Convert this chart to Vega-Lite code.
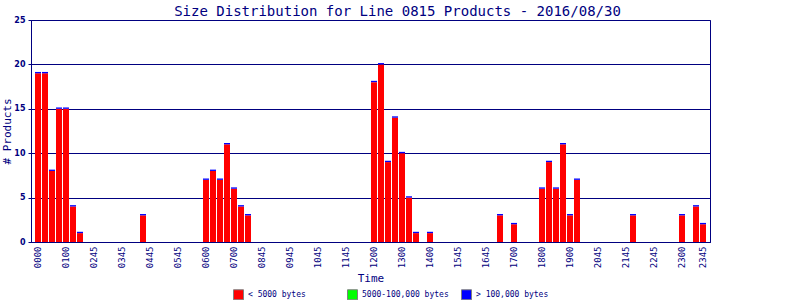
{
  "$schema": "https://vega.github.io/schema/vega-lite/v6.json",
  "autosize": "none",
  "width": 679,
  "height": 222,
  "padding": {"left": 31, "top": 20, "right": 90, "bottom": 58},
  "background": "white",
  "title": {
    "text": "Size Distribution for Line 0815 Products - 2016/08/30",
    "font": "DejaVu Sans Mono",
    "fontSize": 14,
    "fontWeight": "normal",
    "color": "#000080",
    "anchor": "middle",
    "dx": 27,
    "offset": -3
  },
  "data": {
    "values": [
      {"time": "0000", "size": "< 5000 bytes", "n": 19}, {"time": "0000", "size": "> 100,000 bytes", "n": 0.15},
      {"time": "0015", "size": "< 5000 bytes", "n": 19}, {"time": "0015", "size": "> 100,000 bytes", "n": 0.15},
      {"time": "0030", "size": "< 5000 bytes", "n": 8}, {"time": "0030", "size": "> 100,000 bytes", "n": 0.15},
      {"time": "0045", "size": "< 5000 bytes", "n": 15}, {"time": "0045", "size": "> 100,000 bytes", "n": 0.15},
      {"time": "0100", "size": "< 5000 bytes", "n": 15}, {"time": "0100", "size": "> 100,000 bytes", "n": 0.15},
      {"time": "0115", "size": "< 5000 bytes", "n": 4}, {"time": "0115", "size": "> 100,000 bytes", "n": 0.15},
      {"time": "0130", "size": "< 5000 bytes", "n": 1}, {"time": "0130", "size": "> 100,000 bytes", "n": 0.15},
      {"time": "0345", "size": "< 5000 bytes", "n": 3}, {"time": "0345", "size": "> 100,000 bytes", "n": 0.15},
      {"time": "0600", "size": "< 5000 bytes", "n": 7}, {"time": "0600", "size": "> 100,000 bytes", "n": 0.15},
      {"time": "0615", "size": "< 5000 bytes", "n": 8}, {"time": "0615", "size": "> 100,000 bytes", "n": 0.15},
      {"time": "0630", "size": "< 5000 bytes", "n": 7}, {"time": "0630", "size": "> 100,000 bytes", "n": 0.15},
      {"time": "0645", "size": "< 5000 bytes", "n": 11}, {"time": "0645", "size": "> 100,000 bytes", "n": 0.15},
      {"time": "0700", "size": "< 5000 bytes", "n": 6}, {"time": "0700", "size": "> 100,000 bytes", "n": 0.15},
      {"time": "0715", "size": "< 5000 bytes", "n": 4}, {"time": "0715", "size": "> 100,000 bytes", "n": 0.15},
      {"time": "0730", "size": "< 5000 bytes", "n": 3}, {"time": "0730", "size": "> 100,000 bytes", "n": 0.15},
      {"time": "1200", "size": "< 5000 bytes", "n": 18}, {"time": "1200", "size": "> 100,000 bytes", "n": 0.15},
      {"time": "1215", "size": "< 5000 bytes", "n": 20}, {"time": "1215", "size": "> 100,000 bytes", "n": 0.15},
      {"time": "1230", "size": "< 5000 bytes", "n": 9}, {"time": "1230", "size": "> 100,000 bytes", "n": 0.15},
      {"time": "1245", "size": "< 5000 bytes", "n": 14}, {"time": "1245", "size": "> 100,000 bytes", "n": 0.15},
      {"time": "1300", "size": "< 5000 bytes", "n": 10}, {"time": "1300", "size": "> 100,000 bytes", "n": 0.15},
      {"time": "1315", "size": "< 5000 bytes", "n": 5}, {"time": "1315", "size": "> 100,000 bytes", "n": 0.15},
      {"time": "1330", "size": "< 5000 bytes", "n": 1}, {"time": "1330", "size": "> 100,000 bytes", "n": 0.15},
      {"time": "1400", "size": "< 5000 bytes", "n": 1}, {"time": "1400", "size": "> 100,000 bytes", "n": 0.15},
      {"time": "1630", "size": "< 5000 bytes", "n": 3}, {"time": "1630", "size": "> 100,000 bytes", "n": 0.15},
      {"time": "1700", "size": "< 5000 bytes", "n": 2}, {"time": "1700", "size": "> 100,000 bytes", "n": 0.15},
      {"time": "1800", "size": "< 5000 bytes", "n": 6}, {"time": "1800", "size": "> 100,000 bytes", "n": 0.15},
      {"time": "1815", "size": "< 5000 bytes", "n": 9}, {"time": "1815", "size": "> 100,000 bytes", "n": 0.15},
      {"time": "1830", "size": "< 5000 bytes", "n": 6}, {"time": "1830", "size": "> 100,000 bytes", "n": 0.15},
      {"time": "1845", "size": "< 5000 bytes", "n": 11}, {"time": "1845", "size": "> 100,000 bytes", "n": 0.15},
      {"time": "1900", "size": "< 5000 bytes", "n": 3}, {"time": "1900", "size": "> 100,000 bytes", "n": 0.15},
      {"time": "1915", "size": "< 5000 bytes", "n": 7}, {"time": "1915", "size": "> 100,000 bytes", "n": 0.15},
      {"time": "2115", "size": "< 5000 bytes", "n": 3}, {"time": "2115", "size": "> 100,000 bytes", "n": 0.15},
      {"time": "2300", "size": "< 5000 bytes", "n": 3}, {"time": "2300", "size": "> 100,000 bytes", "n": 0.15},
      {"time": "2330", "size": "< 5000 bytes", "n": 4}, {"time": "2330", "size": "> 100,000 bytes", "n": 0.15},
      {"time": "2345", "size": "< 5000 bytes", "n": 2}, {"time": "2345", "size": "> 100,000 bytes", "n": 0.15}
    ]
  },
  "mark": {"type": "bar"},
  "encoding": {
    "x": {
      "field": "time",
      "type": "ordinal",
      "title": "Time",
      "scale": {
        "domain": ["0000","0015","0030","0045","0100","0115","0130","0145","0200","0215","0230","0245","0300","0315","0330","0345","0400","0415","0430","0445","0500","0515","0530","0545","0600","0615","0630","0645","0700","0715","0730","0745","0800","0815","0830","0845","0900","0915","0930","0945","1000","1015","1030","1045","1100","1115","1130","1145","1200","1215","1230","1245","1300","1315","1330","1345","1400","1415","1430","1445","1500","1515","1530","1545","1600","1615","1630","1645","1700","1715","1730","1745","1800","1815","1830","1845","1900","1915","1930","1945","2000","2015","2030","2045","2100","2115","2130","2145","2200","2215","2230","2245","2300","2315","2330","2345"],
        "paddingInner": 0.1429,
        "paddingOuter": 0.571
      },
      "axis": {
        "values": ["0000","0100","0200","0300","0400","0500","0600","0700","0800","0900","1000","1100","1200","1300","1400","1500","1600","1700","1800","1900","2000","2100","2200","2300","2345"],
        "labelExpr": "indexof(['0200','0300','0400','0500','0800','0900','1000','1100','1500','1600','2000','2100','2200'], datum.value) >= 0 ? slice(datum.value, 0, 2) + '45' : datum.value",
        "labelAngle": -90,
        "labelFont": "DejaVu Sans Mono",
        "labelFontSize": 9,
        "labelColor": "#000080",
        "labelPadding": 4,
        "ticks": false,
        "domainColor": "#000080",
        "titleFont": "DejaVu Sans Mono",
        "titleFontSize": 11,
        "titleFontWeight": "normal",
        "titleColor": "#000080",
        "titlePadding": 5,
        "grid": false
      }
    },
    "y": {
      "field": "n",
      "type": "quantitative",
      "stack": "zero",
      "title": "# Products",
      "scale": {"domain": [0, 25], "nice": false},
      "axis": {
        "values": [0, 5, 10, 15, 20, 25],
        "grid": true,
        "gridColor": "#000080",
        "gridOpacity": 1,
        "gridWidth": 1,
        "domainColor": "#000080",
        "tickColor": "#000080",
        "tickSize": 3,
        "labelFont": "DejaVu Sans",
        "labelFontWeight": "bold",
        "labelFontSize": 8,
        "labelColor": "#000080",
        "labelPadding": 3,
        "titleFont": "DejaVu Sans Mono",
        "titleFontSize": 11,
        "titleFontWeight": "normal",
        "titleColor": "#000080",
        "titlePadding": 1
      }
    },
    "color": {
      "field": "size",
      "type": "nominal",
      "scale": {
        "domain": ["< 5000 bytes", "5000-100,000 bytes", "> 100,000 bytes"],
        "range": ["#ff0000", "#00ff00", "#0000ff"]
      },
      "legend": {
        "title": null,
        "orient": "none",
        "legendX": 202,
        "legendY": 269,
        "direction": "horizontal",
        "columns": 3,
        "gridAlign": "all",
        "columnPadding": 10,
        "padding": 0,
        "symbolType": "square",
        "symbolSize": 100,
        "symbolStrokeColor": "#808080",
        "symbolStrokeWidth": 1,
        "symbolOpacity": 1,
        "labelFont": "DejaVu Sans Mono",
        "labelFontSize": 8,
        "labelColor": "#000080",
        "labelOffset": 4,
        "labelLimit": 200
      }
    },
    "order": {"field": "size", "sort": "ascending"}
  },
  "config": {
    "view": {"stroke": "#000080", "strokeWidth": 1},
    "bar": {"opacity": 1}
  }
}
